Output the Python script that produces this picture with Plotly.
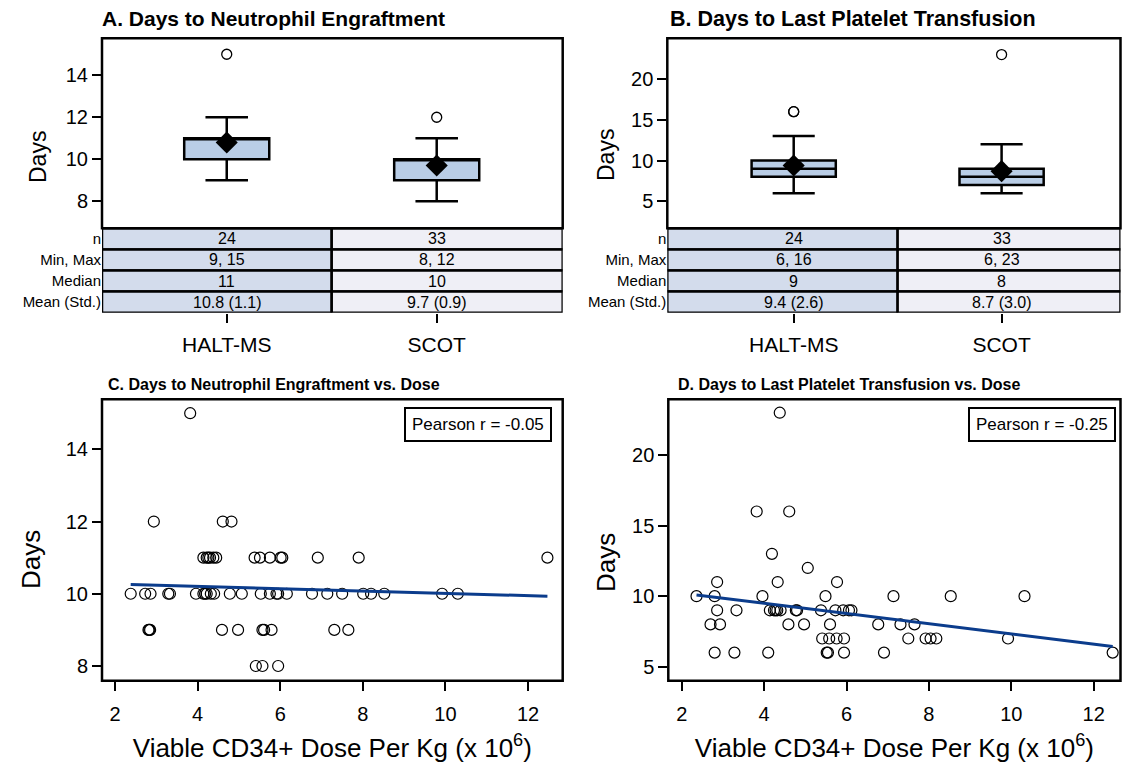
import plotly.graph_objects as go
import numpy as np

W, H = 1122, 774
FONT = "Arial, Liberation Sans, sans-serif"


def fx(p):
    return p / W


def fy(p):
    return 1 - p / H


groups = ["HALT-MS", "SCOT"]
group_pos = [0, 1]

# Panel A: Days to Neutrophil Engraftment (box statistics)
a_q1 = [10, 9]
a_median = [11, 10]
a_q3 = [11, 10]
a_low = [9, 8]
a_high = [12, 11]
a_mean = [10.8, 9.7]
a_out_pos = [0, 1]
a_out_val = [15, 12]

# Panel B: Days to Last Platelet Transfusion (box statistics)
b_q1 = [8, 7]
b_median = [9, 8]
b_q3 = [10, 9]
b_low = [6, 6]
b_high = [13, 12]
b_mean = [9.4, 8.7]
b_out_pos = [0, 0, 1]
b_out_val = [16, 16, 23]

row_labels = ["n", "Min, Max", "Median", "Mean (Std.)"]
a_table = [["24", "33"], ["9, 15", "8, 12"], ["11", "10"], ["10.8 (1.1)", "9.7 (0.9)"]]
b_table = [["24", "33"], ["6, 16", "6, 23"], ["9", "8"], ["9.4 (2.6)", "8.7 (3.0)"]]

# Panel C: neutrophil engraftment vs dose
c_dose = [3.82,
          2.94, 4.61, 4.82,
          4.14, 4.22, 4.26, 4.30, 4.38, 4.45, 5.38, 5.51, 5.75, 6.01, 6.05, 6.91, 7.90, 12.47,
          2.38, 2.73, 2.86, 3.29, 3.33, 3.96, 4.14, 4.18, 4.22, 4.32, 4.40, 4.78, 5.07, 5.53,
          5.75, 5.91, 5.95, 6.16, 6.77, 7.14, 7.50, 8.01, 8.20, 8.52, 9.92, 10.30,
          2.81, 2.83, 2.85, 4.59, 4.98, 5.57, 5.61, 5.79, 7.31, 7.65,
          5.41, 5.57, 5.95]
c_days = [15,
          12, 12, 12,
          11, 11, 11, 11, 11, 11, 11, 11, 11, 11, 11, 11, 11, 11,
          10, 10, 10, 10, 10, 10, 10, 10, 10, 10, 10, 10, 10, 10,
          10, 10, 10, 10, 10, 10, 10, 10, 10, 10, 10, 10,
          9, 9, 9, 9, 9, 9, 9, 9, 9, 9,
          8, 8, 8]

# Panel D: last platelet transfusion vs dose
d_dose = [4.38,
          3.82, 4.61,
          4.19,
          5.06,
          2.86, 4.33, 5.77,
          2.36, 2.80, 3.96, 5.49, 7.14, 8.53, 10.32,
          2.86, 3.33, 4.14, 4.24, 4.28, 4.32, 4.40, 4.77, 4.80, 5.38, 5.73, 5.92, 6.06, 6.12,
          2.70, 2.93, 4.59, 4.97, 5.60, 6.77, 7.31, 7.65,
          5.41, 5.58, 5.76, 5.94, 7.50, 7.92, 8.04, 8.18, 9.92,
          2.80, 3.28, 4.10, 5.52, 5.55, 5.94, 6.91, 12.46]
d_days = [23,
          16, 16,
          13,
          12,
          11, 11, 11,
          10, 10, 10, 10, 10, 10, 10,
          9, 9, 9, 9, 9, 9, 9, 9, 9, 9, 9, 9, 9, 9,
          8, 8, 8, 8, 8, 8, 8, 8,
          7, 7, 7, 7, 7, 7, 7, 7, 7,
          6, 6, 6, 6, 6, 6, 6, 6]

pearson_r = [-0.05, -0.25]

# colours
BOX_FILL = "#B9CDE6"
CELL_FILL = ["#D3DCEC", "#EFEFF6"]
FIT_COLOR = "#0B3C8C"
LW = 2.5

fig = go.Figure()

# ---------- axes geometry ----------
xr_a = [-0.594, 1.6]
xr_b = [-0.608, 1.572]
xr_c = [1.685, 12.84]
xr_d = [1.675, 12.65]
yr_a = [6.71, 15.76]
yr_b = [1.69, 25.0]
yr_c = [7.593, 15.385]
yr_d = [4.01, 23.95]

box_dom = [fy(228.3), fy(38.3)]
tab_dom = [fy(312.7), fy(228.3)]
sc_dom = [fy(680.7), fy(399.3)]

axis_common = dict(showgrid=False, zeroline=False, ticks="outside", ticklen=9,
                   tickwidth=2, tickcolor="black", color="black")

layout = dict(
    width=W, height=H, autosize=False,
    margin=dict(l=0, r=0, t=0, b=0),
    paper_bgcolor="white", plot_bgcolor="white",
    showlegend=False,
    font=dict(family=FONT, color="black"),
)

# Panel A
layout["xaxis"] = dict(domain=[fx(102), fx(562.7)], anchor="y2", range=xr_a,
                       tickvals=group_pos, ticktext=groups, showline=False,
                       tickfont=dict(size=21), ticklabelstandoff=4, **axis_common)
layout["yaxis"] = dict(domain=box_dom, anchor="x", range=yr_a, tickvals=[8, 10, 12, 14],
                       showline=False, tickfont=dict(size=20), **axis_common)
layout["yaxis2"] = dict(domain=tab_dom, anchor="x", range=[4, 0], tickvals=[0.5, 1.5, 2.5, 3.5],
                        ticktext=row_labels, showgrid=False, zeroline=False, ticks="",
                        showline=False, tickfont=dict(size=15))
# Panel B
layout["xaxis2"] = dict(domain=[fx(667.3), fx(1120.5)], anchor="y4", range=xr_b,
                        tickvals=group_pos, ticktext=groups, showline=False,
                        tickfont=dict(size=21), ticklabelstandoff=4, **axis_common)
layout["yaxis3"] = dict(domain=box_dom, anchor="x2", range=yr_b, tickvals=[5, 10, 15, 20],
                        showline=False, tickfont=dict(size=20), **axis_common)
layout["yaxis4"] = dict(domain=tab_dom, anchor="x2", range=[4, 0], tickvals=[0.5, 1.5, 2.5, 3.5],
                        ticktext=row_labels, showgrid=False, zeroline=False, ticks="",
                        showline=False, tickfont=dict(size=15))
# Panel C
xtitle = "Viable CD34+ Dose Per Kg (x 10<sup>6</sup>)"
layout["xaxis3"] = dict(domain=[fx(102), fx(562.7)], anchor="y5", range=xr_c,
                        tickvals=[2, 4, 6, 8, 10, 12], showline=False, tickfont=dict(size=20),
                        ticklabelstandoff=6,
                        title=dict(text=xtitle, font=dict(size=26), standoff=15), **axis_common)
layout["yaxis5"] = dict(domain=sc_dom, anchor="x3", range=yr_c, tickvals=[8, 10, 12, 14],
                        showline=False, tickfont=dict(size=20), **axis_common)
# Panel D
layout["xaxis4"] = dict(domain=[fx(668.3), fx(1120.5)], anchor="y6", range=xr_d,
                        tickvals=[2, 4, 6, 8, 10, 12], showline=False, tickfont=dict(size=20),
                        ticklabelstandoff=6,
                        title=dict(text=xtitle, font=dict(size=26), standoff=15), **axis_common)
layout["yaxis6"] = dict(domain=sc_dom, anchor="x4", range=yr_d, tickvals=[5, 10, 15, 20],
                        showline=False, tickfont=dict(size=20), **axis_common)

fig.update_layout(**layout)


# ---------- box panels ----------
def add_box_panel(xa, ya, q1, med, q3, lo, hi, mean, out_pos, out_val):
    for i, p in enumerate(group_pos):
        fig.add_trace(go.Box(
            x=[p], q1=[q1[i]], median=[med[i]], q3=[q3[i]],
            lowerfence=[lo[i]], upperfence=[hi[i]],
            width=0.405, whiskerwidth=0.5, boxpoints=False,
            fillcolor=BOX_FILL, line=dict(color="black", width=LW),
            xaxis=xa, yaxis=ya, hoverinfo="skip"))
    fig.add_trace(go.Scatter(
        x=group_pos, y=mean, mode="markers", xaxis=xa, yaxis=ya,
        marker=dict(symbol="diamond", size=17, color="black"), hoverinfo="skip"))
    fig.add_trace(go.Scatter(
        x=out_pos, y=out_val, mode="markers", xaxis=xa, yaxis=ya,
        marker=dict(symbol="circle-open", size=10, color="black", line=dict(width=1.3)),
        hoverinfo="skip"))


add_box_panel("x", "y", a_q1, a_median, a_q3, a_low, a_high, a_mean, a_out_pos, a_out_val)
add_box_panel("x2", "y3", b_q1, b_median, b_q3, b_low, b_high, b_mean, b_out_pos, b_out_val)


def add_table(xref, yref, xr, table):
    edges = [xr[0], 0.5, xr[1]]
    for r, row in enumerate(table):
        for c, txt in enumerate(row):
            fig.add_shape(type="rect", xref=xref, yref=yref,
                          x0=edges[c], x1=edges[c + 1], y0=r, y1=r + 1,
                          fillcolor=CELL_FILL[c], line=dict(color="black", width=LW),
                          layer="below")
            fig.add_annotation(xref=xref, yref=yref, x=group_pos[c], y=r + 0.5, text=txt,
                               showarrow=False, font=dict(size=16, family=FONT))


add_table("x", "y2", xr_a, a_table)
add_table("x2", "y4", xr_b, b_table)

# frames
for xa, ya in [("x", "y"), ("x2", "y3"), ("x3", "y5"), ("x4", "y6")]:
    fig.add_shape(type="rect", xref=xa + " domain", yref=ya + " domain",
                  x0=0, x1=1, y0=0, y1=1, line=dict(color="black", width=LW))


# ---------- scatter panels ----------
def add_scatter_panel(xa, ya, dose, days):
    fig.add_trace(go.Scatter(
        x=dose, y=days, mode="markers", xaxis=xa, yaxis=ya, cliponaxis=False,
        marker=dict(symbol="circle-open", size=11, color="black", line=dict(width=1.2)),
        hoverinfo="skip"))
    slope, intercept = np.polyfit(dose, days, 1)
    xs = np.array([min(dose), max(dose)])
    fig.add_trace(go.Scatter(
        x=xs, y=slope * xs + intercept, mode="lines", xaxis=xa, yaxis=ya,
        line=dict(color=FIT_COLOR, width=3), hoverinfo="skip"))


add_scatter_panel("x3", "y5", c_dose, c_days)
add_scatter_panel("x4", "y6", d_dose, d_days)

# Pearson boxes
for xa, ya, r, xpos in [("x3", "y5", pearson_r[0], 0.976), ("x4", "y6", pearson_r[1], 0.989)]:
    fig.add_annotation(xref=xa + " domain", yref=ya + " domain", x=xpos, y=0.972,
                       xanchor="right", yanchor="top", showarrow=False,
                       text=f"Pearson r = {r:.2f}", font=dict(size=17, family=FONT),
                       bordercolor="black", borderwidth=2, borderpad=6, bgcolor="white")

# panel titles
titles = [
    ("A. Days to Neutrophil Engraftment", 100, 19, 21),
    ("B. Days to Last Platelet Transfusion", 668, 19, 21.5),
    ("C. Days to Neutrophil Engraftment vs. Dose", 106, 384, 16),
    ("D. Days to Last Platelet Transfusion vs. Dose", 676, 384, 16),
]
for txt, x, y, s in titles:
    fig.add_annotation(xref="paper", yref="paper", x=fx(x), y=fy(y), xanchor="left",
                       yanchor="middle", showarrow=False, text=f"<b>{txt}</b>",
                       font=dict(size=s, family=FONT))

# y-axis titles ("Days")
ytitles = [(38, 157, 23), (606, 155, 23), (31, 560, 26), (606, 563, 26)]
for x, y, s in ytitles:
    fig.add_annotation(xref="paper", yref="paper", x=fx(x), y=fy(y), xanchor="center",
                       yanchor="middle", showarrow=False, text="Days", textangle=-90,
                       font=dict(size=s, family=FONT))

fig.write_html("out.html", default_width=f"{W}px", default_height=f"{H}px",
               config={"displayModeBar": False},
               post_script="document.body.style.margin='0';document.body.style.overflow='hidden';")
